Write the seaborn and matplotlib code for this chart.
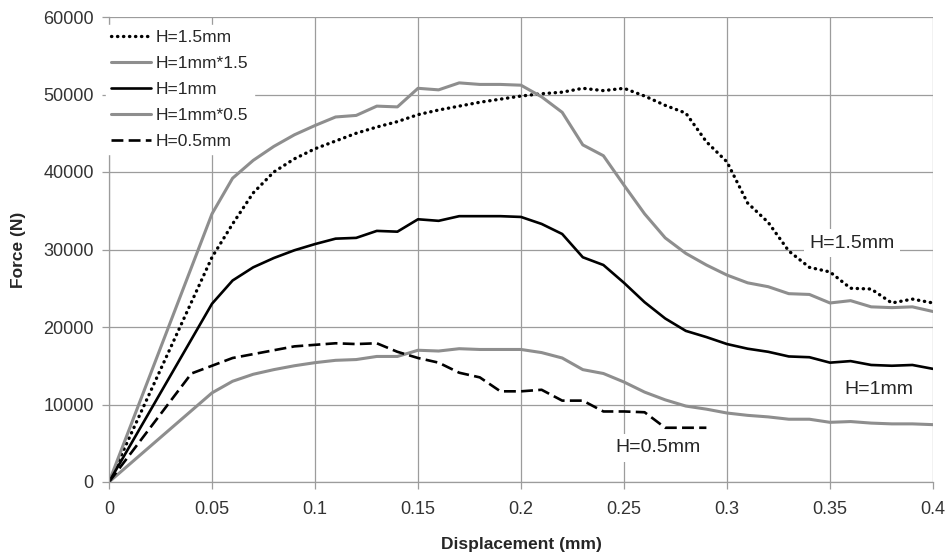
import numpy as np
import pandas as pd
import matplotlib
matplotlib.use("Agg")
import matplotlib.pyplot as plt
import seaborn as sns

sns.set_style("white")
plt.rcParams['font.family'] = ['Liberation Sans', 'DejaVu Sans']

# displacement (mm) sampled by the test rig
disp = [0, 0.05, 0.06, 0.07, 0.08, 0.09, 0.10, 0.11, 0.12, 0.13, 0.14, 0.15,
        0.16, 0.17, 0.18, 0.19, 0.20, 0.21, 0.22, 0.23, 0.24, 0.25, 0.26, 0.27,
        0.28, 0.29, 0.30, 0.31, 0.32, 0.33, 0.34, 0.35, 0.36, 0.37, 0.38, 0.39, 0.40]
disp_05 = [0, 0.04, 0.05, 0.06, 0.07, 0.08, 0.09, 0.10, 0.11, 0.12, 0.13, 0.14,
           0.15, 0.16, 0.17, 0.18, 0.19, 0.20, 0.21, 0.22, 0.23, 0.24, 0.25, 0.26,
           0.27, 0.28, 0.29]

# force (N)
f_h15 = [0, 29000, 33300, 37300, 40000, 41700, 43000, 44000, 45000, 45800, 46500,
         47400, 48000, 48500, 49000, 49400, 49800, 50100, 50300, 50800, 50500, 50800,
         49800, 48600, 47600, 43900, 41300, 36000, 33500, 29800, 27700, 27100, 25000,
         24900, 23100, 23600, 23100]
f_h1x15 = [0, 34600, 39200, 41500, 43300, 44800, 46000, 47100, 47300, 48500, 48400,
           50800, 50600, 51500, 51300, 51300, 51200, 49700, 47700, 43500, 42100, 38300,
           34600, 31500, 29500, 28000, 26700, 25700, 25200, 24300, 24200, 23100, 23400,
           22600, 22500, 22600, 22000]
f_h1 = [0, 23000, 26000, 27700, 28900, 29900, 30700, 31400, 31500, 32400, 32300,
        33900, 33700, 34300, 34300, 34300, 34200, 33300, 32000, 29000, 28000, 25700,
        23200, 21100, 19500, 18700, 17800, 17200, 16800, 16200, 16100, 15400, 15600,
        15100, 15000, 15100, 14600]
f_h1x05 = [0, 11500, 13000, 13900, 14500, 15000, 15400, 15700, 15800, 16200, 16200,
           17000, 16900, 17200, 17100, 17100, 17100, 16700, 16000, 14500, 14000, 12900,
           11600, 10600, 9800, 9400, 8900, 8600, 8400, 8100, 8100, 7700, 7800,
           7600, 7500, 7500, 7400]
f_h05 = [0, 14000, 15000, 16000, 16500, 17000, 17500, 17700, 17900, 17800, 17900,
         16800, 16000, 15400, 14100, 13500, 11700, 11700, 11900, 10500, 10500, 9100,
         9100, 9000, 7000, 7000, 7000]

labels = ["H=1.5mm", "H=1mm*1.5", "H=1mm", "H=1mm*0.5", "H=0.5mm"]

gray = "#8e8e8e"
grid_c = "#9c9c9c"

fig = plt.figure(figsize=(9.49, 5.6), dpi=100)
ax = fig.add_axes([109 / 949, 1 - 482 / 560, 824 / 949, 465 / 560])

sns.lineplot(x=disp, y=f_h15, ax=ax, estimator=None, color="black", lw=2.4,
             linestyle=(0, (0.1, 1.7)), dash_capstyle="round", label=labels[0])
sns.lineplot(x=disp, y=f_h1x15, ax=ax, estimator=None, color=gray, lw=2.2,
             label=labels[1])
sns.lineplot(x=disp, y=f_h1, ax=ax, estimator=None, color="black", lw=1.9,
             label=labels[2])
sns.lineplot(x=disp, y=f_h1x05, ax=ax, estimator=None, color=gray, lw=2.2,
             label=labels[3])
sns.lineplot(x=disp_05, y=f_h05, ax=ax, estimator=None, color="black", lw=1.9,
             linestyle=(0, (4.5, 2)), label=labels[4])

ax.set_xlim(0, 0.4)
ax.set_ylim(0, 60000)
ax.set_xticks(np.arange(0, 0.401, 0.05))
ax.set_xticklabels(["0", "0.05", "0.1", "0.15", "0.2", "0.25", "0.3", "0.35", "0.4"])
ax.set_yticks(np.arange(0, 60001, 10000))
ax.grid(True, color=grid_c, lw=0.9)
ax.set_axisbelow(True)
for s in ["top", "right"]:
    ax.spines[s].set_visible(False)
for s in ["left", "bottom"]:
    ax.spines[s].set_color(grid_c)
    ax.spines[s].set_linewidth(0.9)
ax.tick_params(axis="both", length=5, width=0.9, color=grid_c, labelsize=13,
               labelcolor="#333333", direction="out", bottom=True, left=True)
ax.tick_params(axis="x", pad=9)
ax.tick_params(axis="y", pad=6)

ax.set_xlabel("Displacement (mm)", fontsize=12.5, fontweight="bold", labelpad=13)
ax.set_ylabel("Force (N)", fontsize=12.5, fontweight="bold", labelpad=12)

leg = ax.legend(loc="upper left", bbox_to_anchor=(-0.004, 0.983), fontsize=12.5,
                frameon=True, fancybox=False, framealpha=1, edgecolor="white",
                handlelength=2.3, handletextpad=0.3, labelspacing=0.62,
                borderpad=0.3, borderaxespad=0)

box = dict(facecolor="white", edgecolor="none", pad=4)
ax.text(0.340, 30800, "H=1.5mm", fontsize=14, va="center", ha="left", bbox=box)
ax.text(0.357, 12000, "H=1mm", fontsize=14, va="center", ha="left", bbox=box)
ax.text(0.246, 4400, "H=0.5mm", fontsize=14, va="center", ha="left", bbox=box)

fig.savefig("out.png", dpi=100)
